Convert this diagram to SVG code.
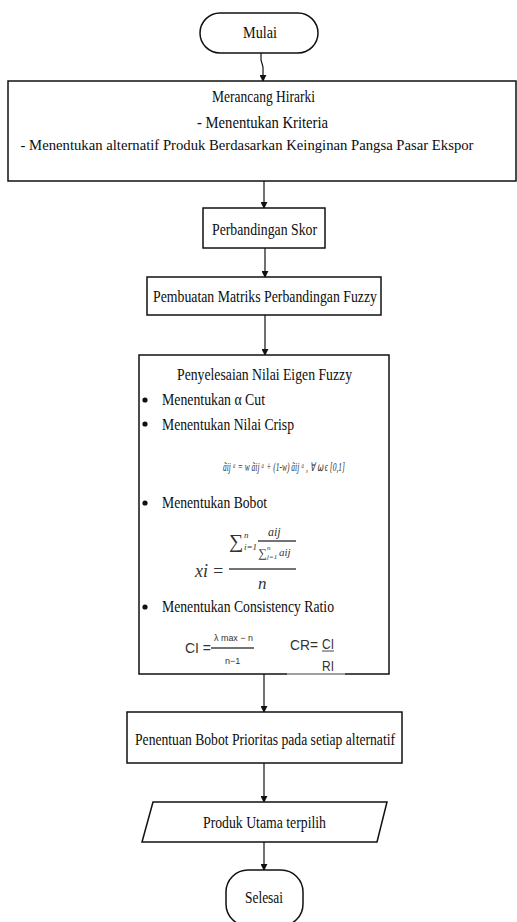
<svg xmlns="http://www.w3.org/2000/svg" width="517" height="922" viewBox="0 0 517 922">
<style>
.box{fill:#fff;stroke:#111;stroke-width:1.5}
.t{font-family:"Liberation Serif",serif;font-size:17px;fill:#0d0d0d}
.f{font-family:"Liberation Serif",serif;font-style:italic;fill:#333}
.c{font-family:"Liberation Sans",sans-serif;fill:#333}
.ln{fill:none;stroke:#111;stroke-width:1.2}
.bar{stroke:#444;stroke-width:1.4}
</style>
<defs>
<marker id="ah" viewBox="0 0 8 8" refX="7" refY="4" markerWidth="7" markerHeight="7" markerUnits="userSpaceOnUse" orient="auto">
<path d="M0,0 L8,4 L0,8 Z" fill="#111"/>
</marker>
</defs>
<rect width="517" height="922" fill="#fff"/>
<g id="connectors">
<path class="ln" d="M261,53 V60 L263,67 V81" marker-end="url(#ah)"/>
<path class="ln" d="M264,181 V208" marker-end="url(#ah)"/>
<path class="ln" d="M265,248 V277" marker-end="url(#ah)"/>
<path class="ln" d="M265,315 V355" marker-end="url(#ah)"/>
<path class="ln" d="M264,674 V712" marker-end="url(#ah)"/>
<path class="ln" d="M264,763 V802" marker-end="url(#ah)"/>
<path class="ln" d="M264,842 V870" marker-end="url(#ah)"/>
</g>
<g id="mulai">
<rect class="box" x="200" y="13" width="118" height="40" rx="20"/>
<text class="t" x="243" y="38" textLength="34" lengthAdjust="spacingAndGlyphs">Mulai</text>
</g>
<g id="hirarki">
<rect class="box" x="8" y="81" width="508" height="100"/>
<text class="t" x="212" y="102" textLength="103" lengthAdjust="spacingAndGlyphs">Merancang Hirarki</text>
<text class="t" x="197" y="128" textLength="131" lengthAdjust="spacingAndGlyphs">- Menentukan Kriteria</text>
<text class="t" x="247" y="150" style="font-size:15px" text-anchor="middle" textLength="453" lengthAdjust="spacingAndGlyphs">- Menentukan alternatif Produk Berdasarkan Keinginan Pangsa Pasar Ekspor</text>
</g>
<g id="skor">
<rect class="box" x="203" y="208" width="122" height="40"/>
<text class="t" x="212" y="235" textLength="105" lengthAdjust="spacingAndGlyphs">Perbandingan Skor</text>
</g>
<g id="matriks">
<rect class="box" x="147" y="277" width="234" height="38"/>
<text class="t" x="153" y="302" textLength="224" lengthAdjust="spacingAndGlyphs">Pembuatan Matriks Perbandingan Fuzzy</text>
</g>
<g id="eigen">
<rect class="box" x="139" y="355" width="250" height="319"/>
<line x1="287" y1="674" x2="345" y2="674" stroke="#bbb" stroke-width="1.6"/>
<text class="t" x="177" y="380" textLength="175" lengthAdjust="spacingAndGlyphs">Penyelesaian Nilai Eigen Fuzzy</text>
<circle cx="145" cy="400" r="2.6" fill="#111"/>
<text class="t" x="162" y="405" textLength="103" lengthAdjust="spacingAndGlyphs">Menentukan α Cut</text>
<circle cx="145" cy="424" r="2.6" fill="#111"/>
<text class="t" x="162" y="430" textLength="132" lengthAdjust="spacingAndGlyphs">Menentukan Nilai Crisp</text>
<text class="f" x="223" y="471" font-size="12" textLength="122" lengthAdjust="spacingAndGlyphs">ãij ᵃ = w ãij ᵃ + (1-w) ãij ᵃ , ∀ ⍵ ϵ [0,1]</text>
<circle cx="145" cy="503" r="2.6" fill="#111"/>
<text class="t" x="162" y="508" textLength="105" lengthAdjust="spacingAndGlyphs">Menentukan Bobot</text>
<text class="f" x="195" y="577" font-size="18">xi</text>
<text class="f" x="212" y="577" font-size="18" font-style="normal">=</text>
<text class="f" x="229" y="548" font-size="20" font-style="normal">∑</text>
<text class="f" x="244" y="538" font-size="9">n</text>
<text class="f" x="244" y="550" font-size="9">i=1</text>
<text class="f" x="268" y="536" font-size="12">aij</text>
<line class="bar" x1="258" y1="541" x2="296" y2="541"/>
<text class="f" x="258" y="557" font-size="12" font-style="normal">∑</text>
<text class="f" x="267" y="550" font-size="7">n</text>
<text class="f" x="267" y="559" font-size="7">j=1</text>
<text class="f" x="279" y="556" font-size="11">aij</text>
<line class="bar" x1="229" y1="569" x2="296" y2="569"/>
<text class="f" x="258" y="589" font-size="17">n</text>
<circle cx="145" cy="607" r="2.6" fill="#111"/>
<text class="t" x="162" y="612" textLength="172" lengthAdjust="spacingAndGlyphs">Menentukan Consistency Ratio</text>
<text class="c" x="185" y="653" font-size="15" textLength="26" lengthAdjust="spacingAndGlyphs">CI =</text>
<text class="c" x="214" y="641" font-size="9" textLength="39" lengthAdjust="spacingAndGlyphs">λ max − n</text>
<line class="bar" x1="211" y1="648" x2="254" y2="648" stroke-width="1"/>
<text class="c" x="225" y="664" font-size="9">n−1</text>
<text class="c" x="290" y="650" font-size="15" textLength="28" lengthAdjust="spacingAndGlyphs">CR=</text>
<text class="c" x="322" y="649" font-size="15" textLength="12" lengthAdjust="spacingAndGlyphs">CI</text>
<line x1="322" y1="651" x2="334" y2="651" stroke="#444" stroke-width="1"/>
<text class="c" x="322" y="671" font-size="15" textLength="12" lengthAdjust="spacingAndGlyphs">RI</text>
</g>
<g id="prioritas">
<rect class="box" x="127" y="712" width="275" height="51"/>
<text class="t" x="135" y="745" textLength="260" lengthAdjust="spacingAndGlyphs">Penentuan Bobot Prioritas pada setiap alternatif</text>
</g>
<g id="produk">
<polygon class="box" points="153,802 387,802 377,842 142,842"/>
<text class="t" x="203" y="828" textLength="123" lengthAdjust="spacingAndGlyphs">Produk Utama terpilih</text>
</g>
<g id="selesai">
<rect class="box" x="226" y="870" width="77" height="56" rx="22"/>
<text class="t" x="245" y="903" textLength="38" lengthAdjust="spacingAndGlyphs">Selesai</text>
</g>
</svg>
